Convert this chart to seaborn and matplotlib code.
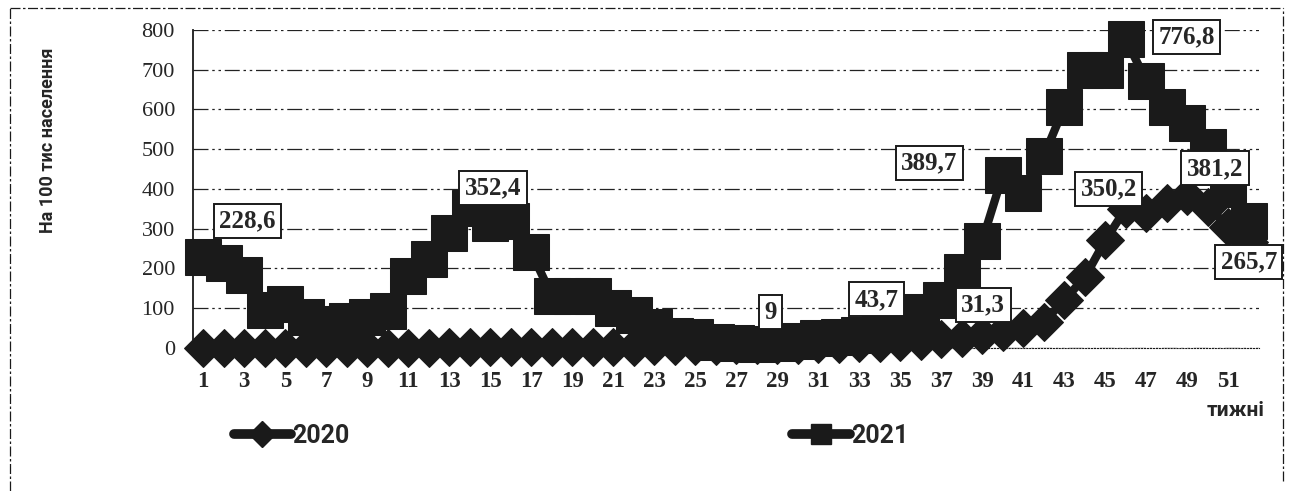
import matplotlib
matplotlib.use("Agg")
import matplotlib.pyplot as plt
from matplotlib import font_manager
from matplotlib.lines import Line2D
import seaborn as sns

# weekly incidence per 100k population
weeks = list(range(1, 53))
inc_2020 = [0, 0, 0, 0, 0, 0, 0, 0, 0, 0, 0, 0,
            1, 1, 1, 1, 2, 2, 2, 2, 3, 3, 4, 4, 5, 5, 6, 6,
            7, 8, 9, 10, 11, 13, 15, 18, 21, 25, 31.3, 40,
            50, 64, 120, 177, 270, 350.2, 340, 365, 381.2, 355, 305, 265.7]
inc_2021 = [228.6, 213, 184, 95, 110, 78, 60, 68, 78, 93,
            181, 224, 290, 352.4, 315, 320, 241, 131, 131, 131,
            100, 82, 53, 30, 28, 15, 12, 9, 11, 18,
            25, 28, 33, 43.7, 60, 90, 120, 190, 269, 435,
            389.7, 482, 606, 700, 700, 776.8, 672, 605, 567, 505,
            400, 320]
series_names = ["2020", "2021"]
labeled_2020 = [39, 46, 49, 52]
labeled_2021 = [1, 14, 28, 34, 41, 46]
y_ticks = [0, 100, 200, 300, 400, 500, 600, 700, 800]
x_ticks = list(range(1, 53, 2))

sns.set_theme(style="white")
names = {f.name for f in font_manager.fontManager.ttflist}
narrow = "Liberation Sans Narrow" if "Liberation Sans Narrow" in names else "Roboto"
serif = "Liberation Serif"
plt.rcParams["font.family"] = [serif, "DejaVu Serif"]

fig = plt.figure(figsize=(12.99, 4.91), dpi=100)
ax = fig.add_axes([0.1486, 0.2918, 0.8206, 0.6471])

sns.lineplot(x=weeks, y=inc_2020, ax=ax, color="k", lw=6, marker="D",
             markersize=19.5, markeredgecolor="k", legend=False)
sns.lineplot(x=weeks, y=inc_2021, ax=ax, color="k", lw=6, marker="s",
             markersize=26, markeredgecolor="k", legend=False)
for ln in ax.lines:
    ln.set_clip_on(False)
    ln.set_zorder(3)

ax.set_xlim(0.5, 52.5)
ax.set_ylim(0, 800)
ax.set_yticks(y_ticks)
ax.set_xticks(x_ticks)
ax.set_xticklabels([str(w) for w in x_ticks], fontsize=16.5, fontweight="bold",
                   family=serif)
ax.set_yticklabels([str(v) for v in y_ticks], fontsize=16, family=serif)
ax.tick_params(axis="x", length=0, pad=17)
ax.tick_params(axis="y", length=4, width=0.8, color="k", direction="out", pad=9)
ax.yaxis.grid(True, linestyle=(0, (12, 3, 2, 3, 2, 3)), color="#222", lw=0.9)
ax.xaxis.grid(False)
for side in ["top", "right"]:
    ax.spines[side].set_visible(False)
ax.spines["left"].set_color("k")
ax.spines["left"].set_linewidth(1.3)
ax.spines["bottom"].set_color("k")
ax.spines["bottom"].set_linestyle(":")
ax.spines["bottom"].set_linewidth(0.8)
ax.set_ylabel("")
ax.set_xlabel("")

# data labels (offsets in pixels from the point)
offs_2020 = {39: (1, 30), 46: (-17, 20), 49: (28, 28), 52: (0, -20)}
offs_2021 = {1: (44, 36), 14: (23, 20), 28: (14, 32), 34: (-3, 31),
             41: (-94, 30), 46: (61, 2)}
box = dict(boxstyle="square,pad=0.22", fc="white", ec="k", lw=1.4)
for vals, lab_weeks, offs in [(inc_2020, labeled_2020, offs_2020),
                              (inc_2021, labeled_2021, offs_2021)]:
    for w in lab_weeks:
        v = vals[w - 1]
        ax.annotate(f"{v:g}".replace(".", ","), (w, v), xytext=offs[w],
                    textcoords="offset pixels", ha="center", va="center",
                    fontsize=18, fontweight="bold", family=serif,
                    bbox=box, zorder=5, annotation_clip=False)

fig.text(0.037, 0.715, "На 100 тис населення", rotation=90, ha="center",
         va="center", fontsize=13, fontweight="bold", family=[narrow, "DejaVu Sans"])
fig.text(0.951, 0.163, "тижні", ha="center", va="center", fontsize=15,
         fontweight="bold", family=[narrow, "DejaVu Sans"])

handles = [Line2D([], [], color="k", lw=7, marker="D", ms=13),
           Line2D([], [], color="k", lw=7, marker="s", ms=15)]
fig.legend(handles, series_names, loc="center", bbox_to_anchor=(0.4395, 0.112),
           ncol=2, frameon=False, handlelength=2.3, handletextpad=0.05,
           columnspacing=17.7, prop={"family": [narrow, "DejaVu Sans"],
                                     "weight": "bold", "size": 18})

# dashed frame of the original chart area
frame = dict(color="k", lw=0.9, linestyle=(0, (8, 2, 2, 2)),
             transform=fig.transFigure)
fig.add_artist(Line2D([0.0077, 0.0077], [0.0, 0.984], **frame))
fig.add_artist(Line2D([0.0077, 0.988], [0.984, 0.984], **frame))
fig.add_artist(Line2D([0.988, 0.988], [0.02, 0.984], **frame))

fig.savefig("out.png", dpi=100)
